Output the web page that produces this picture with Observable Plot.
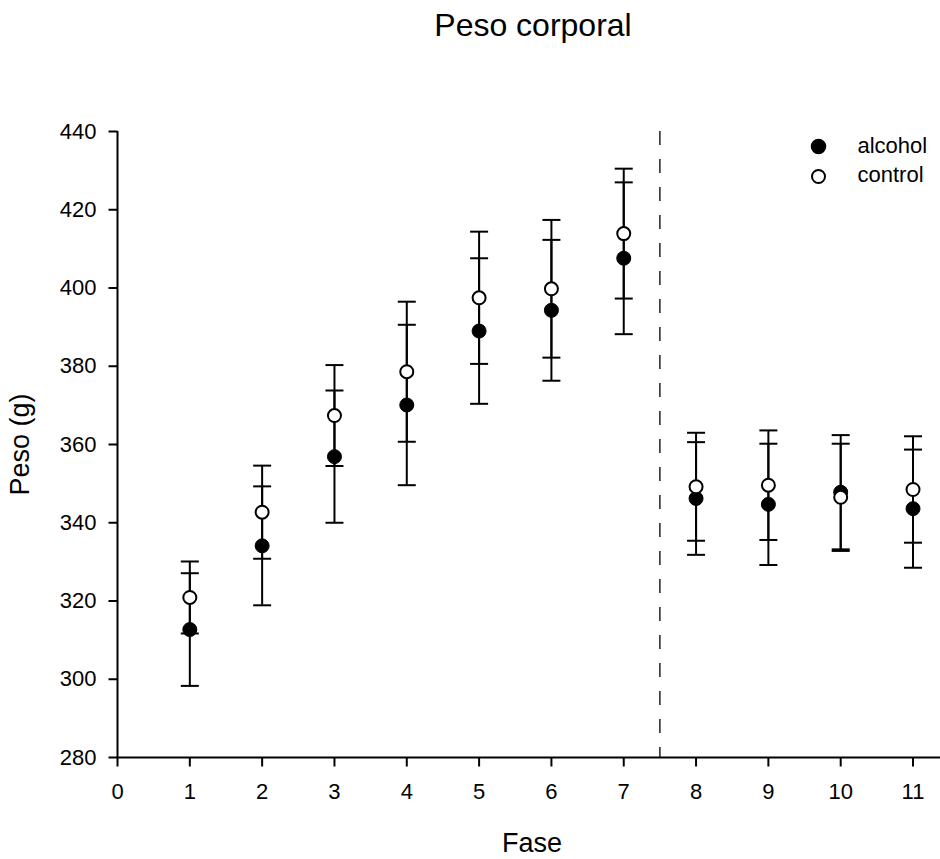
<!DOCTYPE html>
<html>
<head>
<meta charset="utf-8">
<script src="https://cdn.jsdelivr.net/npm/d3@7"></script>
<script src="https://cdn.jsdelivr.net/npm/@observablehq/plot@0.6"></script>
<style>
  html, body { margin: 0; padding: 0; background: #fff; }
  #chart svg { display: block; font-family: "Liberation Sans", Arial, sans-serif; }
</style>
</head>
<body>
<div id="chart"></div>
<script>
// ---- data ----
const fase = [1, 2, 3, 4, 5, 6, 7, 8, 9, 10, 11];
const alcoholMean = [312.7, 334.1, 356.9, 370.1, 389.0, 394.3, 407.6, 346.2, 344.7, 347.8, 343.6];
const alcoholErr  = [14.4, 15.2, 16.9, 20.5, 18.6, 18.0, 19.4, 14.4, 15.5, 14.6, 15.1];
const controlMean = [320.9, 342.7, 367.4, 378.6, 397.5, 399.8, 413.9, 349.2, 349.6, 346.5, 348.5];
const controlErr  = [9.2, 11.9, 12.9, 17.9, 16.9, 17.6, 16.6, 13.8, 14.0, 13.7, 13.6];
const xTicks = [0, 1, 2, 3, 4, 5, 6, 7, 8, 9, 10, 11];
const yTicks = [280, 300, 320, 340, 360, 380, 400, 420, 440];
const separator = [7.5];
const seriesNames = ["alcohol", "control"];
const title = "Peso corporal";
const xLabel = "Fase";
const yLabel = "Peso (g)";

const alcohol = fase.map((f, i) => ({fase: f, mean: alcoholMean[i], lo: alcoholMean[i] - alcoholErr[i], hi: alcoholMean[i] + alcoholErr[i]}));
const control = fase.map((f, i) => ({fase: f, mean: controlMean[i], lo: controlMean[i] - controlErr[i], hi: controlMean[i] + controlErr[i]}));

// symbols: horizontal cap (centered), downward tick, leftward tick
const cap = {
  draw(context, size) {
    const r = Math.sqrt(size / Math.PI);
    context.moveTo(-r, 0);
    context.lineTo(r, 0);
  }
};
const tickDown = {
  draw(context, size) {
    const r = Math.sqrt(size / Math.PI);
    context.moveTo(0, 0);
    context.lineTo(0, r);
  }
};
const tickLeft = {
  draw(context, size) {
    const r = Math.sqrt(size / Math.PI);
    context.moveTo(0, 0);
    context.lineTo(-r, 0);
  }
};

const font = "Liberation Sans, Arial, sans-serif";

function errorMarks(data) {
  return [
    Plot.ruleX(data, {x: "fase", y1: "lo", y2: "hi", stroke: "black", strokeWidth: 2}),
    Plot.dot(data, {x: "fase", y: "lo", symbol: cap, r: 9, stroke: "black", strokeWidth: 2, fill: "none"}),
    Plot.dot(data, {x: "fase", y: "hi", symbol: cap, r: 9, stroke: "black", strokeWidth: 2, fill: "none"})
  ];
}

const plot = Plot.plot({
  width: 940,
  height: 859,
  marginTop: 131,
  marginBottom: 102,
  marginLeft: 117,
  marginRight: 0,
  style: {fontFamily: font, fontSize: "22px", background: "white", color: "black", overflow: "visible"},
  x: {domain: [0, 11.38], axis: null},
  y: {domain: [280, 440], axis: null},
  marks: [
    Plot.ruleX(separator, {x: d => d, stroke: "black", strokeWidth: 1.3, strokeDasharray: "14,14"}),
    ...errorMarks(alcohol),
    Plot.dot(alcohol, {x: "fase", y: "mean", r: 7, fill: "black", stroke: "black", strokeWidth: 1}),
    ...errorMarks(control),
    Plot.dot(control, {x: "fase", y: "mean", r: 6.5, fill: "white", stroke: "black", strokeWidth: 2}),
    // axes: lines, ticks, tick labels
    Plot.ruleY([280], {stroke: "black", strokeWidth: 2}),
    Plot.ruleX([0], {stroke: "black", strokeWidth: 2}),
    Plot.dot(xTicks, {x: d => d, frameAnchor: "bottom", symbol: tickDown, r: 9, stroke: "black", strokeWidth: 2, fill: "none"}),
    Plot.dot(yTicks, {y: d => d, frameAnchor: "left", symbol: tickLeft, r: 9, stroke: "black", strokeWidth: 2, fill: "none"}),
    Plot.text(xTicks, {x: d => d, text: d => String(d), frameAnchor: "bottom", dy: 34, textAnchor: "middle", lineAnchor: "middle", fontSize: 22, fill: "black"}),
    Plot.text(yTicks, {y: d => d, text: d => String(d), frameAnchor: "left", dx: -21, textAnchor: "end", lineAnchor: "middle", fontSize: 22, fill: "black"}),
    // legend
    Plot.dot([seriesNames[0]], {frameAnchor: "top-right", dx: -122, dy: 15, r: 7, fill: "black", stroke: "black"}),
    Plot.dot([seriesNames[1]], {frameAnchor: "top-right", dx: -122, dy: 45, r: 6.5, fill: "white", stroke: "black", strokeWidth: 2}),
    Plot.text([seriesNames[0]], {text: d => d, frameAnchor: "top-right", dx: -83, dy: 14, textAnchor: "start", lineAnchor: "middle", fontSize: 22, fill: "black"}),
    Plot.text([seriesNames[1]], {text: d => d, frameAnchor: "top-right", dx: -83, dy: 43, textAnchor: "start", lineAnchor: "middle", fontSize: 22, fill: "black"}),
    // title and axis labels
    Plot.text([title], {text: d => d, frameAnchor: "top", dx: 4, dy: -106, textAnchor: "middle", lineAnchor: "middle", fontSize: 32, fill: "black"}),
    Plot.text([xLabel], {text: d => d, frameAnchor: "bottom", dx: 3, dy: 86, textAnchor: "middle", lineAnchor: "middle", fontSize: 27, fill: "black"}),
    Plot.text([yLabel], {text: d => d, frameAnchor: "left", dx: -97, rotate: -90, textAnchor: "middle", lineAnchor: "middle", fontSize: 27, fill: "black"})
  ]
});
document.getElementById("chart").appendChild(plot);
</script>
</body>
</html>
